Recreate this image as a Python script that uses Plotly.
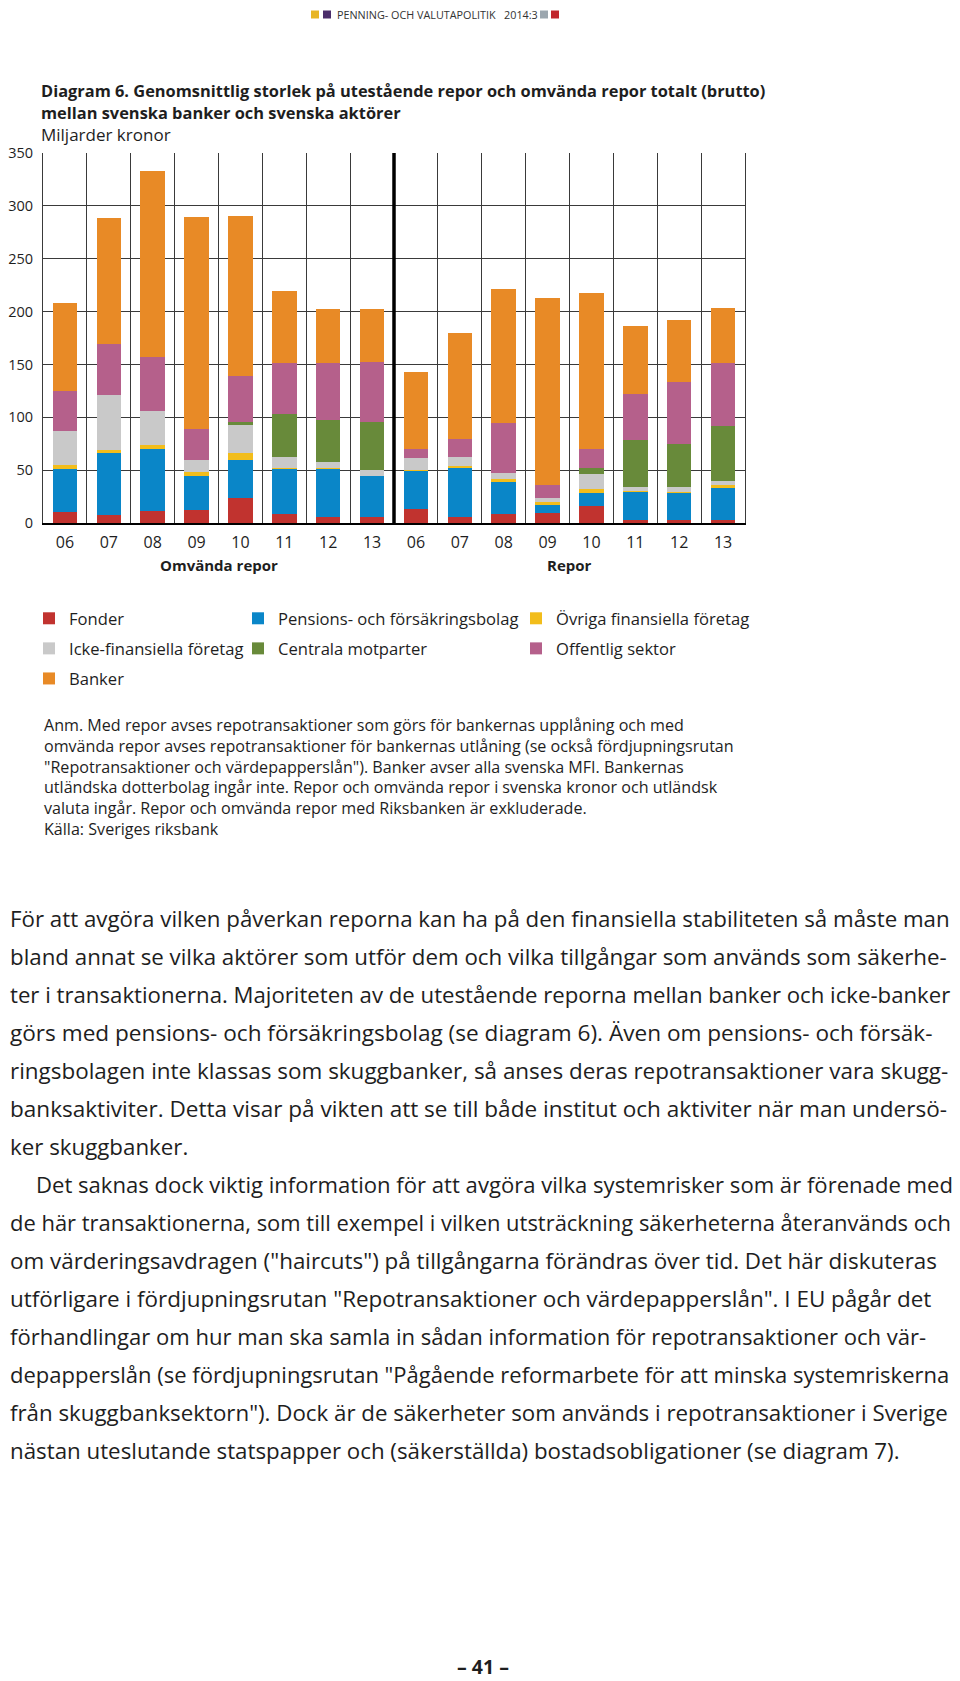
import plotly.graph_objects as go

# ---------------- data ----------------
years = ["06", "07", "08", "09", "10", "11", "12", "13"]
groups = ["Omvända repor", "Repor"]
categories = [f"{g} {y}" for g in groups for y in years]
tick_labels = years + years

series_names = ["Fonder", "Pensions- och försäkringsbolag", "Övriga finansiella företag",
                "Icke-finansiella företag", "Centrala motparter", "Offentlig sektor", "Banker"]

fonder = [10.4, 7.6, 11.6, 12.6, 23.6, 8.2, 5.7, 5.7, 13.5, 5.3, 8.2, 9.5, 15.7, 2.5, 2.5, 3.1]
pensions = [41.0, 59.0, 58.5, 32.0, 36.3, 43.5, 46.0, 39.0, 36.0, 46.5, 30.6, 7.5, 12.7, 27.4, 26.5, 30.0]
ovriga = [3.0, 2.8, 3.8, 4.0, 6.3, 0.6, 0.8, 0.0, 0.5, 2.5, 2.5, 2.9, 3.8, 0.3, 0.3, 3.1]
icke_fin = [32.5, 52.0, 32.0, 11.0, 26.1, 10.3, 5.0, 5.7, 11.1, 8.5, 5.8, 4.0, 14.2, 3.8, 4.7, 3.8]
centrala = [0.0, 0.0, 0.0, 0.0, 3.2, 40.7, 40.0, 44.8, 0.0, 0.0, 0.0, 0.0, 5.8, 44.1, 41.0, 51.4]
offentlig = [37.5, 47.5, 51.5, 29.3, 43.8, 48.3, 53.5, 56.8, 8.8, 17.0, 47.3, 11.6, 17.7, 44.2, 58.4, 60.0]
banker = [84.0, 120.0, 176.0, 200.5, 150.7, 68.1, 51.6, 50.7, 73.0, 99.5, 127.0, 177.6, 148.0, 63.7, 58.3, 52.0]

y_ticks = [0, 50, 100, 150, 200, 250, 300, 350]

colors = ["#C1332F", "#0A86C8", "#F2BD1B", "#C9C9C9", "#688A3A", "#B5608B", "#E88A26"]
series_values = [fonder, pensions, ovriga, icke_fin, centrala, offentlig, banker]
legend_ids = ["legend", "legend2", "legend3", "legend", "legend2", "legend3", "legend"]

title_lines = ["Diagram 6. Genomsnittlig storlek på utestående repor och omvända repor totalt (brutto)",
               "mellan svenska banker och svenska aktörer"]
unit_label = "Miljarder kronor"

note_lines = [
    "Anm. Med repor avses repotransaktioner som görs för bankernas upplåning och med",
    "omvända repor avses repotransaktioner för bankernas utlåning (se också fördjupningsrutan",
    "\"Repotransaktioner och värdepapperslån\"). Banker avser alla svenska MFI. Bankernas",
    "utländska dotterbolag ingår inte. Repor och omvända repor i svenska kronor och utländsk",
    "valuta ingår. Repor och omvända repor med Riksbanken är exkluderade.",
    "Källa: Sveriges riksbank",
]

body_lines = [
    "För att avgöra vilken påverkan reporna kan ha på den finansiella stabiliteten så måste man",
    "bland annat se vilka aktörer som utför dem och vilka tillgångar som används som säkerhe-",
    "ter i transaktionerna. Majoriteten av de utestående reporna mellan banker och icke-banker",
    "görs med pensions- och försäkringsbolag (se diagram 6). Även om pensions- och försäk-",
    "ringsbolagen inte klassas som skuggbanker, så anses deras repotransaktioner vara skugg-",
    "banksaktiviter. Detta visar på vikten att se till både institut och aktiviter när man undersö-",
    "ker skuggbanker.",
    "Det saknas dock viktig information för att avgöra vilka systemrisker som är förenade med",
    "de här transaktionerna, som till exempel i vilken utsträckning säkerheterna återanvänds och",
    "om värderingsavdragen (\"haircuts\") på tillgångarna förändras över tid. Det här diskuteras",
    "utförligare i fördjupningsrutan \"Repotransaktioner och värdepapperslån\". I EU pågår det",
    "förhandlingar om hur man ska samla in sådan information för repotransaktioner och vär-",
    "depapperslån (se fördjupningsrutan \"Pågående reformarbete för att minska systemriskerna",
    "från skuggbanksektorn\"). Dock är de säkerheter som används i repotransaktioner i Sverige",
    "nästan uteslutande statspapper och (säkerställda) bostadsobligationer (se diagram 7).",
]
indented_lines = [7]
# per-line font sizes (style) so that the justified lines fill the column width
body_sizes = [22.3, 22.3, 22.2, 22.6, 22.45, 22.55, 22.3,
              22.1, 21.95, 22.4, 22.45, 22.05, 22.0, 22.3, 22.3]

header_text = "PENNING- OCH VALUTAPOLITIK\u00a0\u00a0\u00a02014:3"
page_number = "– 41 –"

# ---------------- layout helpers (page pixel coords) ----------------
OFF = 8                      # page body margin
W, H = 960 - OFF, 1681 - OFF
PL, PR, PT, PB = 43, 745, 153, 523   # plot area on the page
FONT = "Open Sans"
TXT = "#1e1e1e"


def fx(x):
    return (x - PL) / (PR - PL)


def fy(y):
    return (PB - y) / (PB - PT)


fig = go.Figure()
for name, vals, col, lg in zip(series_names, series_values, colors, legend_ids):
    fig.add_trace(go.Bar(
        x=categories, y=vals, name=name, marker=dict(color=col, line=dict(width=0)),
        legend=lg, legendgroup=name,
    ))

annotations = []


def text(x, y, s, size, bold=False, xanchor="left", color=TXT):
    annotations.append(dict(
        x=fx(x), y=fy(y), xref="paper", yref="paper", text=s, showarrow=False,
        xanchor=xanchor, yanchor="middle",
        font=dict(family=FONT, size=size, color=color, weight=700 if bold else 400),
    ))


# header
text(335, 14.5, header_text, 10.8, color="#333333")
# titles
text(39, 91, title_lines[0], 16.4, bold=True)
text(39, 112, title_lines[1], 16.4, bold=True)
text(39, 134, unit_label, 17)
# group labels
text(PL + (PR - PL) * 0.25, 565, groups[0], 15, bold=True, xanchor="center")
text(PL + (PR - PL) * 0.75, 565, groups[1], 15, bold=True, xanchor="center")
# notes
for i, s in enumerate(note_lines):
    text(42, 725 + i * 20.8, s, 16.1)
# body
for i, (s, sz) in enumerate(zip(body_lines, body_sizes)):
    text(34 if i in indented_lines else OFF, 918 + i * 38.0, s, sz)
# page number
text(483, 1666, page_number, 19.5, bold=True, xanchor="center")

shapes = []
# thick separator between groups
shapes.append(dict(type="line", xref="paper", yref="paper", x0=0.5, x1=0.5, y0=0, y1=1,
                   line=dict(color="#000000", width=3.5)))
# header squares
for x0, c in [(311, "#E8B524"), (323, "#4A2D6B"), (540, "#9BA6AE"), (551, "#C1272D")]:
    shapes.append(dict(type="rect", xref="paper", yref="paper", x0=fx(x0), x1=fx(x0 + 8),
                       y0=fy(18.5), y1=fy(10.5), line=dict(width=0), fillcolor=c))

legend_common = dict(
    orientation="v", xanchor="left", yanchor="top", bgcolor="rgba(0,0,0,0)",
    font=dict(family=FONT, size=16.6, color=TXT), tracegroupgap=5.5, itemwidth=30,
    traceorder="grouped",
)

fig.update_layout(
    width=W, height=H,
    margin=dict(l=PL - OFF, r=W - (PR - OFF), t=PT - OFF, b=H - (PB - OFF), pad=0,
                autoexpand=False),
    paper_bgcolor="white", plot_bgcolor="white",
    barmode="stack", bargap=0.44,
    font=dict(family=FONT, size=15, color=TXT),
    showlegend=True,
    legend=dict(x=fx(29), y=fy(601), **legend_common),
    legend2=dict(x=fx(238), y=fy(601), **legend_common),
    legend3=dict(x=fx(516), y=fy(601), **legend_common),
    xaxis=dict(
        type="category", categoryorder="array", categoryarray=categories,
        tickmode="array", tickvals=categories, ticktext=tick_labels,
        tickson="boundaries", ticks="", showgrid=True, gridcolor="#3a3a3a", gridwidth=1,
        showline=True, linecolor="#000000", linewidth=2, automargin=False,
        tickfont=dict(family=FONT, size=16, color=TXT), ticklabelstandoff=4,
    ),
    yaxis=dict(
        range=[0, 350], tickmode="array", tickvals=y_ticks, ticks="",
        showgrid=True, gridcolor="#3a3a3a", gridwidth=1, zeroline=False,
        showline=True, linecolor="#3a3a3a", linewidth=1, mirror=True, automargin=False,
        tickfont=dict(family=FONT, size=14.5, color=TXT), ticklabelstandoff=6,
    ),
    annotations=annotations, shapes=shapes,
)

fig.write_html("out.html")
